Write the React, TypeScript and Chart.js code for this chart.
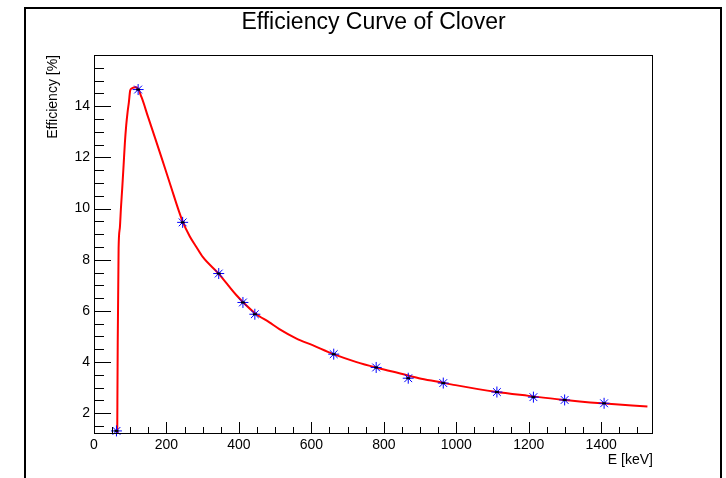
import React, { useEffect, useRef } from "react";
import { Chart, registerables } from "chart.js";

Chart.register(...registerables);

// Measured efficiency points (energy in keV, efficiency in %)
const pointEnergies = [62, 121.8, 244.7, 344.3, 411.1, 444.0, 661.7, 778.9, 867.4, 964.1, 1112.1, 1212.9, 1299.1, 1408.0];
const pointEfficiencies = [1.31, 14.65, 9.46, 7.46, 6.33, 5.87, 4.31, 3.79, 3.37, 3.18, 2.83, 2.63, 2.52, 2.39];

// Fitted efficiency curve
const curveEnergies = [64.1, 65.5, 67.9, 71.5, 74.3, 77.9, 81.7, 85.3, 88.9, 92.7, 96.3, 99.9, 103.7, 117.5, 131.2, 149.4, 167.8, 186.2, 209.1, 244.0, 264.1, 282.5, 300.7, 343.9, 392.6, 443.7, 484.2, 511.7, 557.6, 603.3, 663, 722.7, 777.7, 832.7, 896.8, 949.9, 997.8, 1107.8, 1199.4, 1291, 1401, 1527.6];
const curveEfficiencies = [1.19, 4.78, 8.45, 9.27, 10.0, 10.79, 11.69, 12.58, 13.25, 13.77, 14.16, 14.61, 14.69, 14.74, 14.35, 13.57, 12.79, 12.0, 11.0, 9.52, 8.92, 8.5, 8.1, 7.46, 6.62, 5.92, 5.55, 5.29, 4.93, 4.66, 4.3, 4.01, 3.79, 3.6, 3.37, 3.23, 3.1, 2.84, 2.68, 2.53, 2.39, 2.26];

// Axis tick labels
const xTickValues = [0, 200, 400, 600, 800, 1000, 1200, 1400];
const yTickValues = [2, 4, 6, 8, 10, 12, 14];

const X_MIN = 0;
const X_MAX = 1543;
const Y_MIN = 1.19;
const Y_MAX = 16.0;

const FONT = "'Liberation Sans', Arial, Helvetica, sans-serif";

const rootFrame = {
  id: "rootFrame",
  beforeDraw(chart: any) {
    const { ctx, width, height } = chart;
    ctx.save();
    ctx.fillStyle = "#ffffff";
    ctx.fillRect(0, 0, width, height);
    ctx.strokeStyle = "#000000";
    ctx.lineWidth = 2;
    ctx.beginPath();
    ctx.moveTo(25, height + 2);
    ctx.lineTo(25, 8);
    ctx.lineTo(721, 8);
    ctx.lineTo(721, height + 2);
    ctx.stroke();
    ctx.restore();
  },
  afterDatasetsDraw(chart: any) {
    const { ctx, chartArea: a, scales } = chart;
    const xs = scales.x;
    const ys = scales.y;
    ctx.save();
    ctx.strokeStyle = "#000000";
    ctx.lineWidth = 1;
    ctx.strokeRect(a.left + 0.5, a.top + 0.5, a.right - a.left - 1, a.bottom - a.top - 1);
    ctx.beginPath();
    for (let v = Math.ceil(Y_MIN / 0.5) * 0.5; v <= Y_MAX + 1e-9; v += 0.5) {
      const py = Math.round(ys.getPixelForValue(v)) + 0.5;
      const major = Math.abs(v / 2 - Math.round(v / 2)) < 1e-9;
      const len = major ? 17 : 10;
      ctx.moveTo(a.left, py);
      ctx.lineTo(a.left + len, py);
    }
    for (let v = X_MIN; v <= X_MAX; v += 50) {
      const px = Math.round(xs.getPixelForValue(v)) + 0.5;
      const major = v % 200 === 0;
      const len = major ? 12 : 7;
      ctx.moveTo(px, a.bottom);
      ctx.lineTo(px, a.bottom - len);
    }
    ctx.stroke();
    ctx.restore();
  },
};

export default function App() {
  const ref = useRef<HTMLCanvasElement | null>(null);

  useEffect(() => {
    if (!ref.current) return;
    const curve = curveEnergies.map((e, i) => ({ x: e, y: curveEfficiencies[i] }));
    const pts = pointEnergies.map((e, i) => ({ x: e, y: pointEfficiencies[i] }));
    const chart = new Chart(ref.current, {
      type: "scatter",
      data: {
        datasets: [
          {
            label: "errors",
            data: pts,
            showLine: false,
            pointStyle: "line",
            pointRadius: 2,
            pointBorderWidth: 2,
            borderColor: "#000000",
            backgroundColor: "#000000",
            clip: false as any,
            order: 1,
          },
          {
            label: "measured",
            data: pts,
            showLine: false,
            pointStyle: "star",
            pointRadius: 5.5,
            pointBorderWidth: 1,
            borderColor: "#0000ff",
            backgroundColor: "#0000ff",
            clip: false as any,
            order: 2,
          },
          {
            label: "fit",
            data: curve,
            showLine: true,
            pointRadius: 0,
            borderColor: "#ff0000",
            borderWidth: 2,
            cubicInterpolationMode: "monotone",
            order: 3,
          },
        ],
      },
      options: {
        responsive: false,
        animation: false,
        devicePixelRatio: 1,
        layout: { padding: { left: 0, right: 73, top: 0, bottom: 0 } },
        plugins: {
          legend: { display: false },
          tooltip: { enabled: false },
          title: {
            display: true,
            text: "Efficiency Curve of Clover",
            color: "#000000",
            fullSize: false,
            font: { family: FONT, size: 23, weight: "normal", lineHeight: 1.2 },
            padding: { top: 9.2, bottom: 18.2 },
          },
        },
        scales: {
          x: {
            type: "linear",
            position: "bottom",
            min: X_MIN,
            max: X_MAX,
            afterBuildTicks: (s: any) => {
              s.ticks = xTickValues.map((value) => ({ value }));
            },
            afterFit: (s: any) => {
              s.height = 44;
            },
            grid: { display: false, drawTicks: false },
            border: { display: false },
            ticks: {
              color: "#000000",
              font: { family: FONT, size: 14 },
              padding: 3,
              maxRotation: 0,
              autoSkip: false,
              callback: (v: any) => String(v),
            },
            title: {
              display: true,
              text: "E [keV]",
              align: "end",
              color: "#000000",
              font: { family: FONT, size: 14 },
              padding: { top: 0, bottom: 9 },
            },
          },
          y: {
            type: "linear",
            min: Y_MIN,
            max: Y_MAX,
            afterBuildTicks: (s: any) => {
              s.ticks = yTickValues.map((value) => ({ value }));
            },
            afterFit: (s: any) => {
              s.width = 94;
            },
            grid: { display: false, drawTicks: false },
            border: { display: false },
            ticks: {
              color: "#000000",
              font: { family: FONT, size: 14 },
              padding: 4,
              autoSkip: false,
              callback: (v: any) => String(v),
            },
            title: {
              display: true,
              text: "Efficiency [%]",
              align: "end",
              color: "#000000",
              font: { family: FONT, size: 14 },
              padding: { top: 44.5, bottom: 0 },
            },
          },
        },
      },
      plugins: [rootFrame],
    });
    return () => chart.destroy();
  }, []);

  return (
    <div style={{ position: "absolute", left: 0, top: 0, width: 726, height: 478 }}>
      <canvas ref={ref} width={726} height={478} style={{ display: "block" }} />
    </div>
  );
}
